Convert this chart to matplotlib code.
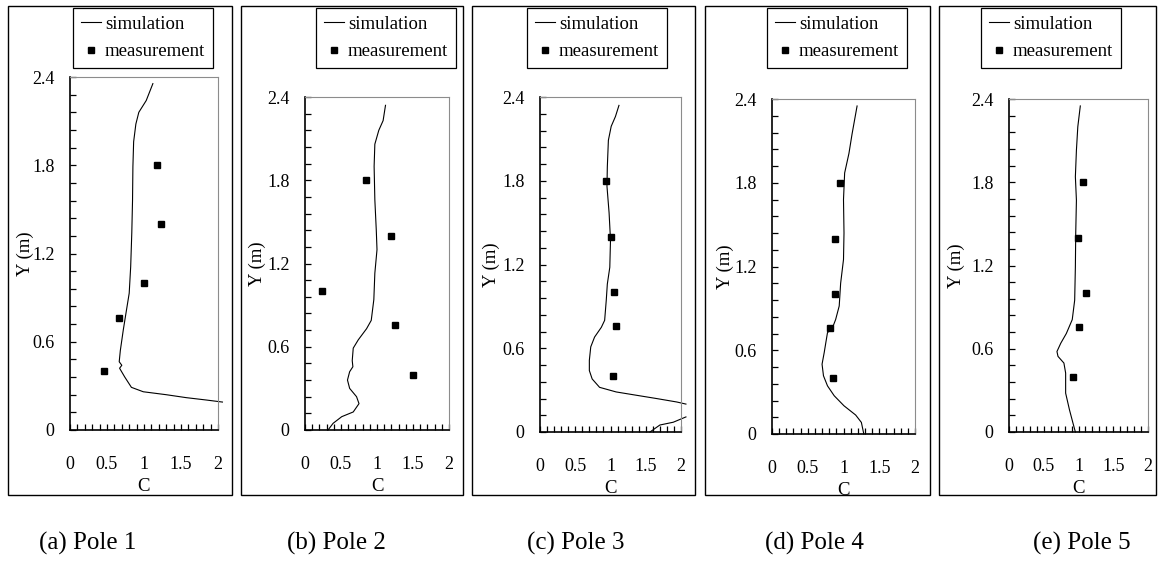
import matplotlib
matplotlib.use("Agg")
import matplotlib.pyplot as plt
from matplotlib.patches import Rectangle
from matplotlib.ticker import MultipleLocator
import numpy as np

plt.rcParams['font.family'] = ['Liberation Serif', 'DejaVu Serif']

W, H = 1158, 565

# measurement heights (same for every pole)
meas_y = [0.4, 0.76, 1.0, 1.4, 1.8]

# pole 1
sim1_c = [1.12, 1.03, 0.93, 0.89, 0.86, 0.85, 0.845, 0.835, 0.82, 0.80, 0.755, 0.72, 0.68,
          0.665, 0.70, 0.67, 0.74, 0.83, 0.99, 1.30, 1.57, 1.84, 2.06]
sim1_y = [2.355, 2.24, 2.16, 2.08, 1.96, 1.79, 1.56, 1.34, 1.11, 0.93, 0.79, 0.68, 0.54,
          0.464, 0.44, 0.42, 0.36, 0.29, 0.26, 0.24, 0.22, 0.204, 0.19]
meas1_c = [0.46, 0.66, 1.0, 1.23, 1.18]

# pole 2
sim2_c = [1.118, 1.085, 1.025, 0.97, 0.96, 0.97, 0.99, 1.0, 0.97, 0.956, 0.92, 0.855, 0.74,
          0.67, 0.656, 0.665, 0.62, 0.59, 0.62, 0.716, 0.75, 0.67, 0.51, 0.39, 0.32]
sim2_y = [2.34, 2.23, 2.16, 2.06, 1.90, 1.66, 1.44, 1.30, 1.13, 0.94, 0.79, 0.73, 0.65,
          0.59, 0.50, 0.456, 0.42, 0.36, 0.30, 0.24, 0.19, 0.13, 0.096, 0.048, 0.0]
meas2_c = [1.50, 1.25, 0.235, 1.19, 0.845]

# pole 3 (curve leaves the axis at C > 2 and comes back near the bottom)
sim3_c = [1.12, 1.07, 1.01, 0.97, 0.955, 0.95, 0.98, 1.0, 0.99, 0.955, 0.94, 0.917, 0.87,
          0.774, 0.72, 0.70, 0.70, 0.74, 0.845, 1.08, 1.37, 1.65, 1.94, 2.07,
          np.nan, 2.07, 1.89, 1.70, 1.56]
sim3_y = [2.34, 2.26, 2.19, 2.09, 1.90, 1.76, 1.57, 1.376, 1.18, 1.06, 0.945, 0.80, 0.75,
          0.68, 0.61, 0.514, 0.44, 0.38, 0.32, 0.287, 0.263, 0.24, 0.215, 0.20,
          np.nan, 0.108, 0.07, 0.05, 0.0]
meas3_c = [1.03, 1.08, 1.05, 1.0, 0.93]

# pole 4
sim4_c = [1.19, 1.12, 1.076, 1.016, 1.0, 1.007, 1.0, 0.96, 0.94, 0.89, 0.845, 0.776, 0.753,
          0.73, 0.70, 0.72, 0.776, 0.87, 1.007, 1.17, 1.25, 1.284]
sim4_y = [2.35, 2.15, 2.01, 1.87, 1.68, 1.44, 1.25, 1.08, 0.917, 0.82, 0.76, 0.726, 0.655,
          0.583, 0.50, 0.417, 0.345, 0.274, 0.202, 0.136, 0.083, 0.0]
meas4_c = [0.86, 0.81, 0.88, 0.88, 0.95]

# pole 5
sim5_c = [1.026, 0.99, 0.97, 0.955, 0.97, 0.96, 0.955, 0.945, 0.91, 0.825, 0.745, 0.69,
          0.705, 0.79, 0.815, 0.815, 0.87, 0.92, 0.955]
sim5_y = [2.35, 2.20, 2.03, 1.84, 1.67, 1.43, 1.19, 0.95, 0.81, 0.71, 0.64, 0.58,
          0.545, 0.497, 0.425, 0.28, 0.16, 0.065, 0.0]
meas5_c = [0.92, 1.0, 1.11, 0.99, 1.065]

sims = [(sim1_c, sim1_y), (sim2_c, sim2_y), (sim3_c, sim3_y), (sim4_c, sim4_y), (sim5_c, sim5_y)]
meas = [meas1_c, meas2_c, meas3_c, meas4_c, meas5_c]
captions = ['(a) Pole 1', '(b) Pole 2', '(c) Pole 3', '(d) Pole 4', '(e) Pole 5']

# layout in pixels
axes_px = [(70, 77, 218, 430), (305, 97, 449, 430), (540, 97, 681, 432),
           (772, 99, 915, 434), (1009, 99, 1148, 432)]
boxes_px = [(8, 232), (241, 463), (472, 695), (705, 930), (939, 1156)]
legend_px = [(73, 8), (316, 8), (527, 8), (767, 8), (981, 8)]
ylabel_px = [34, 266, 500, 734, 965]
caption_x = [88, 336, 576, 814, 1082]

fig = plt.figure(figsize=(W / 100, H / 100), dpi=100)

for i in range(5):
    l, t, r, b = axes_px[i]
    ax = fig.add_axes([l / W, 1 - b / H, (r - l) / W, (b - t) / H])
    c, y = sims[i]
    ax.plot(c, y, color='black', lw=0.8, clip_on=False, label='simulation')
    ax.plot(meas[i], meas_y, 's', color='black', ms=4.5, ls='none', label='measurement')
    ax.set_xlim(0, 2)
    ax.set_ylim(0, 2.4)
    ax.xaxis.set_major_locator(MultipleLocator(0.5))
    ax.xaxis.set_minor_locator(MultipleLocator(0.1))
    ax.yaxis.set_major_locator(MultipleLocator(0.6))
    ax.yaxis.set_minor_locator(MultipleLocator(0.12))
    ax.xaxis.set_major_formatter(lambda v, p: f'{v:g}')
    ax.yaxis.set_major_formatter(lambda v, p: f'{v:g}')
    ax.tick_params(which='both', direction='in', length=4, width=0.9, top=False, right=False)
    ax.tick_params(axis='x', which='major', pad=19, labelsize=13)
    ax.tick_params(axis='y', which='major', pad=11, labelsize=13)
    for s in ['top', 'right']:
        ax.spines[s].set_color('#8c8c8c')
        ax.spines[s].set_linewidth(0.8)
    for s in ['left', 'bottom']:
        ax.spines[s].set_linewidth(1.2)
    ax.set_xlabel('C', fontsize=13.5, labelpad=3)
    ax.set_ylabel('Y (m)', fontsize=13.5)
    ax.yaxis.set_label_coords(ylabel_px[i] / W, 1 - (t + b) / 2 / H, transform=fig.transFigure)

    lx, ly = legend_px[i]
    ax.legend(loc='upper left', bbox_to_anchor=(lx / W, 1 - ly / H), bbox_transform=fig.transFigure,
              borderaxespad=0, fontsize=13.5, frameon=True, fancybox=False, edgecolor='black',
              framealpha=1, handlelength=1.1, handletextpad=0.2, labelspacing=0.55,
              borderpad=0.4, numpoints=1).get_frame().set_linewidth(0.9)

    x0, x1 = boxes_px[i]
    fig.add_artist(Rectangle((x0 / W, 1 - 495 / H), (x1 - x0) / W, (495 - 6) / H,
                             transform=fig.transFigure, fill=False, ec='black', lw=1.0))
    fig.text(caption_x[i] / W, 1 - 543 / H, captions[i], ha='center', va='center', fontsize=18)

fig.savefig('out.png', dpi=100)
